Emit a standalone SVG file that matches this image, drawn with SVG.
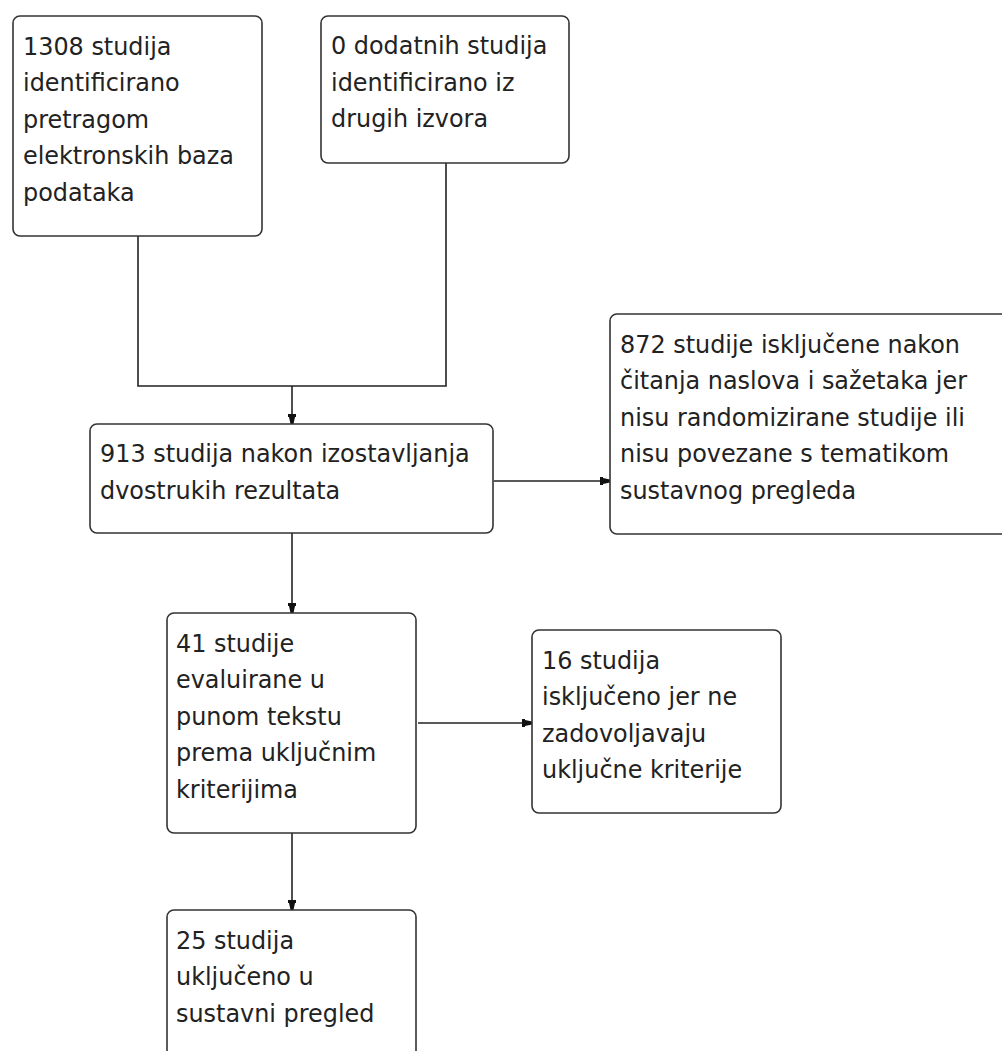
<svg xmlns="http://www.w3.org/2000/svg" width="1002" height="1051" viewBox="0 0 1002 1051">
<style>
.box{fill:#ffffff;stroke:#333333;stroke-width:1.6}
.t{font-family:"DejaVu Sans",sans-serif;font-size:23.9px;fill:#222222}
.c{fill:none;stroke:#222222;stroke-width:1.6}
</style>
<defs>
<marker id="ah" viewBox="0 0 10 10" refX="10" refY="5" markerWidth="10" markerHeight="10" markerUnits="userSpaceOnUse" orient="auto">
<path d="M0,1 L3,1 L3,2 L10,3.5 L10,6.5 L3,8 L3,9 L0,9 Z" fill="#111111"/>
</marker>
</defs>
<rect width="1002" height="1051" fill="#ffffff"/>
<g id="connectors">
<polyline class="c" points="138,236 138,386 446,386 446,163"/>
<line class="c" x1="292" y1="386" x2="292" y2="424" marker-end="url(#ah)"/>
<line class="c" x1="494" y1="481" x2="610" y2="481" marker-end="url(#ah)"/>
<line class="c" x1="292" y1="533" x2="292" y2="613" marker-end="url(#ah)"/>
<line class="c" x1="418" y1="723" x2="532" y2="723" marker-end="url(#ah)"/>
<line class="c" x1="292" y1="833" x2="292" y2="910" marker-end="url(#ah)"/>
</g>
<g id="n1">
<rect class="box" x="13" y="16" width="249" height="220" rx="7"/>
<text class="t" x="23" y="54.5">1308 studija</text>
<text class="t" x="23" y="91">identificirano</text>
<text class="t" x="23" y="127.5">pretragom</text>
<text class="t" x="23" y="164">elektronskih baza</text>
<text class="t" x="23" y="200.5">podataka</text>
</g>
<g id="n2">
<rect class="box" x="321" y="16" width="248" height="147" rx="7"/>
<text class="t" x="331" y="54">0 dodatnih studija</text>
<text class="t" x="331" y="90.5">identificirano iz</text>
<text class="t" x="331" y="127">drugih izvora</text>
</g>
<g id="n3">
<rect class="box" x="90" y="424" width="403" height="109" rx="7"/>
<text class="t" x="100" y="462">913 studija nakon izostavljanja</text>
<text class="t" x="100" y="498.5">dvostrukih rezultata</text>
</g>
<g id="n4">
<rect class="box" x="610" y="314" width="400" height="220" rx="7"/>
<text class="t" x="620" y="352.5">872 studije isključene nakon</text>
<text class="t" x="620" y="389">čitanja naslova i sažetaka jer</text>
<text class="t" x="620" y="425.5">nisu randomizirane studije ili</text>
<text class="t" x="620" y="462">nisu povezane s tematikom</text>
<text class="t" x="620" y="498.5">sustavnog pregleda</text>
</g>
<g id="n5">
<rect class="box" x="167" y="613" width="249" height="220" rx="7"/>
<text class="t" x="176" y="651.5">41 studije</text>
<text class="t" x="176" y="688">evaluirane u</text>
<text class="t" x="176" y="724.5">punom tekstu</text>
<text class="t" x="176" y="761">prema uključnim</text>
<text class="t" x="176" y="797.5">kriterijima</text>
</g>
<g id="n6">
<rect class="box" x="532" y="630" width="249" height="183" rx="7"/>
<text class="t" x="542" y="668.5">16 studija</text>
<text class="t" x="542" y="705">isključeno jer ne</text>
<text class="t" x="542" y="741.5">zadovoljavaju</text>
<text class="t" x="542" y="778">uključne kriterije</text>
</g>
<g id="n7">
<rect class="box" x="167" y="910" width="249" height="160" rx="7"/>
<text class="t" x="176" y="948.5">25 studija</text>
<text class="t" x="176" y="985">uključeno u</text>
<text class="t" x="176" y="1021.5">sustavni pregled</text>
</g>
</svg>
